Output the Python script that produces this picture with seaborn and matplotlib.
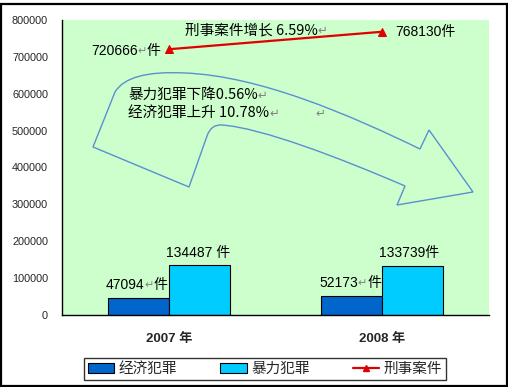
import numpy as np
import pandas as pd
import matplotlib
matplotlib.use('Agg')
import matplotlib.pyplot as plt
from matplotlib.patches import Patch, Rectangle, PathPatch
from matplotlib.lines import Line2D
from matplotlib.path import Path
import seaborn as sns

# data
years = ['2007 年', '2008 年']
series_names = ['经济犯罪', '暴力犯罪']
economic = [47094, 52173]
violent = [134487, 133739]
criminal = [720666, 768130]
bar_labels_eco = [('47094', '↵', '件'), ('52173', '↵', '件')]
bar_labels_vio = [('134487 件',), ('133739件',)]
line_labels = [('720666', '↵', '件'), ('768130件',)]
yticks = [0, 100000, 200000, 300000, 400000, 500000, 600000, 700000, 800000]

sns.set_style('white')
plt.rcParams['font.family'] = ['Liberation Sans', 'Noto Sans CJK SC', 'DejaVu Sans']
CJK = ['Noto Sans CJK SC', 'DejaVu Sans']
NUM = ['Liberation Sans', 'Noto Sans CJK SC', 'DejaVu Sans']
GREY = '#808080'

W, H = 508, 387
fig = plt.figure(figsize=(W / 100, H / 100), dpi=100)
fig.patch.set_facecolor('white')
ax = fig.add_axes([62 / W, (H - 315) / H, (489 - 62) / W, (315 - 20) / H])
ax.set_facecolor('#CCFFCC')

df = pd.DataFrame({
    'year': years * 2,
    'type': [series_names[0]] * 2 + [series_names[1]] * 2,
    'count': economic + violent,
})
sns.barplot(data=df, x='year', y='count', hue='type', hue_order=series_names,
            palette=['#0066CC', '#00CCFF'], saturation=1, width=0.573, gap=0,
            edgecolor='black', linewidth=0.8, ax=ax, legend=False, zorder=2)

xs = np.arange(len(years))
sns.lineplot(x=xs, y=criminal, color='#E00000', lw=1.6, marker='^',
             markersize=6, markeredgecolor='#E00000', ax=ax, zorder=4)

ax.set_xlim(-0.5, 1.5)
ax.set_ylim(0, 800000)
ax.set_yticks(yticks)
ax.set_yticklabels([str(v) for v in yticks], fontsize=7.8, family=NUM)
ax.set_xticks([-0.5, 0.5, 1.5])
ax.set_xticklabels([])
ax.set_xticks(xs, minor=True)
ax.set_xticklabels(years, minor=True, fontsize=9.5, fontweight='bold', family=NUM)
ax.tick_params(axis='x', which='minor', length=0, pad=13)
ax.tick_params(axis='x', which='major', direction='in', length=4, width=0.9)
ax.tick_params(axis='y', direction='in', length=3, width=0.9, pad=10)
ax.set_xlabel('')
ax.set_ylabel('')
for s in ['top', 'right']:
    ax.spines[s].set_visible(False)
for s in ['left', 'bottom']:
    ax.spines[s].set_color('black')
    ax.spines[s].set_linewidth(1.0)


def chain(pieces, xy, xycoords, offset, size, family):
    prev = None
    for s in pieces:
        col = GREY if s == '↵' else 'black'
        fs = size * 0.8 if s == '↵' else size
        if prev is None:
            prev = ax.annotate(s, xy=xy, xycoords=xycoords, xytext=offset,
                               textcoords='offset points', ha='left', va='center',
                               color=col, fontsize=fs, family=family, zorder=6)
        else:
            prev = ax.annotate(s, xy=(1, 0.5), xycoords=prev, xytext=(0, 0),
                               textcoords='offset points', ha='left', va='center',
                               color=col, fontsize=fs, family=family, zorder=6)
    return prev


def fp(px, py):
    # reference pixel position -> axes fraction
    return (px - 62) / (489 - 62), (315 - py) / (315 - 20)


# value labels above the bars
eco_bars = ax.containers[0]
vio_bars = ax.containers[1]
for p, lab in zip(eco_bars, bar_labels_eco):
    chain(lab, (p.get_x(), p.get_height()), 'data', (-1.5, 9), 10, NUM)
for p, lab in zip(vio_bars, bar_labels_vio):
    chain(lab, (p.get_x(), p.get_height()), 'data', (-2, 9), 10, NUM)

# labels for the line
chain(line_labels[0], (xs[0], criminal[0]), 'data', (-56, -1.5), 10, NUM)
chain(line_labels[1], (xs[1], criminal[1]), 'data', (9, 0), 10, NUM)

# text annotations
chain(('刑事案件增长 6.59%', '↵'), fp(185, 30), 'axes fraction', (0, 0), 10.5, CJK)

# curved arrow shape
verts = [fp(93, 147), fp(115, 92), fp(128, 70), fp(185, 73),
         fp(260, 76), fp(350, 115), fp(420, 149),
         fp(429, 130), fp(473, 192), fp(397, 205), fp(405, 186),
         fp(340, 158), fp(262, 128), fp(222, 125),
         fp(211, 124), fp(207, 136), fp(189, 187), fp(93, 147)]
codes = [Path.MOVETO, Path.LINETO, Path.CURVE3, Path.CURVE3,
         Path.CURVE4, Path.CURVE4, Path.CURVE4,
         Path.LINETO, Path.LINETO, Path.LINETO, Path.LINETO,
         Path.CURVE4, Path.CURVE4, Path.CURVE4,
         Path.CURVE3, Path.CURVE3, Path.LINETO, Path.CLOSEPOLY]
ax.add_patch(PathPatch(Path(verts, codes), facecolor='none', edgecolor='#5B8FD0',
                       lw=1.0, transform=ax.transAxes, zorder=3))

chain(('暴力犯罪下降0.56%', '↵'), fp(128, 95), 'axes fraction', (0, 0), 10.5, CJK)
chain(('经济犯罪上升 10.78%', '↵'), fp(128, 113), 'axes fraction', (0, 0), 10.5, CJK)
ax.annotate('↵', xy=fp(320, 113), xycoords='axes fraction', ha='center', va='center',
            color=GREY, fontsize=8.5, family=CJK)

# legend at the bottom
handles = [Patch(facecolor='#0066CC', edgecolor='black', lw=0.8),
           Patch(facecolor='#00CCFF', edgecolor='black', lw=0.8),
           Line2D([], [], color='#E00000', lw=1.6, marker='^', markersize=5)]
leg = fig.legend(handles, series_names + ['刑事案件'], ncol=3, loc='lower left',
                 bbox_to_anchor=(77 / W, 0, (453 - 77) / W, 25 / H), mode='expand',
                 fancybox=False, frameon=True, edgecolor='black', borderpad=0.25,
                 handlelength=1.8, handleheight=0.7, handletextpad=0.3,
                 prop={'family': CJK, 'size': 10.5})
leg.get_frame().set_linewidth(1.0)

# outer border of the chart
fig.add_artist(Rectangle((0.5 / W, 1.3 / H), 506 / W, 381.5 / H, transform=fig.transFigure,
                         facecolor='none', edgecolor='black', lw=1.6, zorder=0))

fig.savefig('out.png', dpi=100)
